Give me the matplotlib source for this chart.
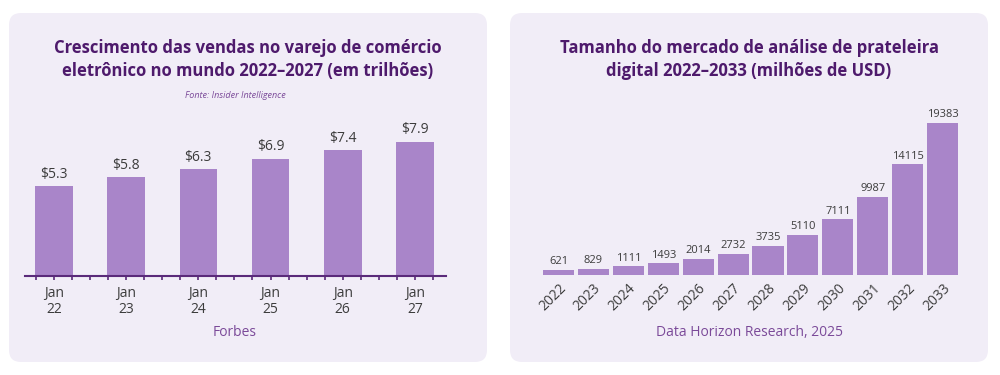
import matplotlib
matplotlib.use('Agg')
import matplotlib.pyplot as plt
import matplotlib.transforms as mtransforms
from matplotlib.patches import FancyBboxPatch
import numpy as np

# left chart data
left_labels = ['Jan\n22', 'Jan\n23', 'Jan\n24', 'Jan\n25', 'Jan\n26', 'Jan\n27']
left_values = [5.3, 5.8, 6.3, 6.9, 7.4, 7.9]

# right chart data
right_years = ['2022', '2023', '2024', '2025', '2026', '2027',
               '2028', '2029', '2030', '2031', '2032', '2033']
right_values = [621, 829, 1111, 1493, 2014, 2732, 3735, 5110, 7111, 9987, 14115, 19383]

bar_color = '#a985c9'
title_color = '#4e1a6c'
src_color = '#7b4a99'
panel_color = '#f1edf7'
text_color = '#3c3c3c'
font = 'Open Sans'

W, H = 1000, 375
fig = plt.figure(figsize=(10, 3.75), dpi=100)
fig.patch.set_facecolor('white')

# rounded panels in pixel coords (drawn behind axes)
for x0 in (9, 510):
    p = FancyBboxPatch((x0 + 12, H - 362 + 12), 478 - 24, 349 - 24,
                       boxstyle='round,pad=12', facecolor=panel_color,
                       edgecolor='none', transform=mtransforms.IdentityTransform(),
                       zorder=-10)
    fig.patches.append(p)

def fx(px):
    return px / W

def fy(py):
    return 1 - py / H

# ---- left chart ----
fig.text(fx(248), fy(48), 'Crescimento das vendas no varejo de comércio',
         ha='center', va='center', fontsize=12, fontweight='bold',
         color=title_color, family=font)
fig.text(fx(248), fy(71), 'eletrônico no mundo 2022–2027 (em trilhões)',
         ha='center', va='center', fontsize=12, fontweight='bold',
         color=title_color, family=font)
fig.text(fx(235), fy(96), 'Fonte: Insider Intelligence', ha='center', va='center',
         fontsize=6.5, style='italic', color=src_color, family=font)

ax1 = fig.add_axes([fx(25), fy(276), (446 - 25) / W, 153 / H])
ax1.set_facecolor('none')
x = np.arange(len(left_values))
ax1.bar(x, left_values, width=0.52, color=bar_color)
for xi, v in zip(x, left_values):
    ax1.text(xi, v + 0.25, f'${v}', ha='center', va='bottom', fontsize=10,
             color=text_color, family=font)
ax1.set_xlim(-0.4, 5.43)
ax1.set_ylim(0, 9)
ax1.set_yticks([])
for s in ('top', 'right', 'left'):
    ax1.spines[s].set_visible(False)
ax1.spines['bottom'].set_color('#5a2a7a')
ax1.spines['bottom'].set_linewidth(1.5)
ax1.set_xticks(x)
ax1.set_xticklabels(left_labels, fontsize=10, color=text_color, family=font,
                    linespacing=1.1)
ax1.set_xticks(np.arange(-0.25, 5.3, 0.25), minor=True)
ax1.tick_params(axis='x', which='both', length=3, width=1.2, color='#5a2a7a', pad=4)
fig.text(fx(235), fy(333), 'Forbes', ha='center', va='center', fontsize=10,
         color=src_color, family=font)

# ---- right chart ----
fig.text(fx(749), fy(48), 'Tamanho do mercado de análise de prateleira',
         ha='center', va='center', fontsize=12, fontweight='bold',
         color=title_color, family=font)
fig.text(fx(749), fy(71), 'digital 2022–2033 (milhões de USD)',
         ha='center', va='center', fontsize=12, fontweight='bold',
         color=title_color, family=font)

ax2 = fig.add_axes([fx(540), fy(275), 420 / W, 156.8 / H])
ax2.set_facecolor('none')
x2 = np.arange(len(right_values))
ax2.bar(x2, right_values, width=0.89, color=bar_color)
for xi, v in zip(x2, right_values):
    ax2.text(xi, v + 350, str(v), ha='center', va='bottom', fontsize=8,
             color=text_color, family=font)
ax2.set_xlim(-0.53, 11.5)
ax2.set_ylim(0, 20000)
ax2.set_yticks([])
for s in ax2.spines.values():
    s.set_visible(False)
ax2.set_xticks(x2)
ax2.set_xticklabels(right_years, rotation=45, ha='right', rotation_mode='anchor',
                    fontsize=10, color=text_color, family=font)
ax2.tick_params(axis='x', length=0, pad=4)
fig.text(fx(749), fy(333), 'Data Horizon Research, 2025', ha='center', va='center',
         fontsize=10, color=src_color, family=font)

fig.savefig('out.png', dpi=100, facecolor='white')
